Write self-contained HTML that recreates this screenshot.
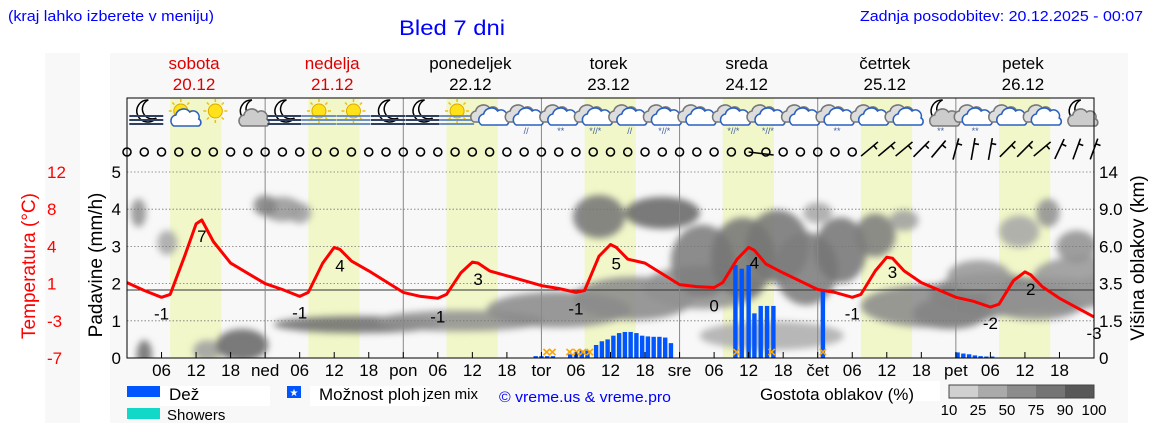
<!DOCTYPE html>
<html><head><meta charset="utf-8"><style>
html,body{margin:0;padding:0;background:#fff;}
svg{display:block;font-family:"Liberation Sans",sans-serif;}
</style></head><body>
<svg id="c" width="1152" height="443" viewBox="0 0 1152 443">
<defs>
<filter id="blur" x="-50%" y="-50%" width="200%" height="200%"><feGaussianBlur stdDeviation="3.5"/></filter>
<clipPath id="plotclip"><rect x="127" y="160" width="967" height="198"/></clipPath>
</defs>
<rect x="110" y="53" width="1018" height="370" fill="#f8f8f8"/>
<rect x="45" y="53" width="35" height="370" fill="#f8f8f8"/>
<text x="8" y="21" font-size="15" fill="#0000ff" textLength="206" lengthAdjust="spacingAndGlyphs">(kraj lahko izberete v meniju)</text>
<text x="399" y="35" font-size="21" fill="#0000ff" textLength="106" lengthAdjust="spacingAndGlyphs">Bled 7 dni</text>
<text x="1143" y="21" font-size="15" fill="#0000ff" text-anchor="end" textLength="283" lengthAdjust="spacingAndGlyphs">Zadnja posodobitev: 20.12.2025 - 00:07</text>
<g id="days"></g>
<g id="bands"></g>
<g id="clouds" clip-path="url(#plotclip)"><g id="cloudsin" filter="url(#blur)"></g></g>
<g id="grid"></g>
<g id="icons"></g>
<g id="wind"></g>
<g id="bars"></g>
<g id="temp"></g>
<g id="axes"></g>
<g id="legend"></g>
</svg>
<script>
const dayNames=["sobota","nedelja","ponedeljek","torek","sreda","četrtek","petek"];
const dayDates=["20.12","21.12","22.12","23.12","24.12","25.12","26.12"];
const dayShort=["","ned","pon","tor","sre","čet","pet"];
const tempHourOffsets=[0,3,6,7.5,10,12,13,15,18];
const tempValues=[
 0.8,0.0,-0.7,-0.4,3.5,6.8,7.2,5.0,2.8,
 0.7,0.1,-0.6,-0.2,2.8,4.4,4.2,3.0,2.0,
 -0.2,-0.6,-0.8,-0.4,1.8,2.9,2.8,2.0,1.5,
 0.5,0.2,-0.2,0.0,3.5,4.7,4.4,3.2,2.8,
 0.6,0.4,0.3,0.8,3.2,4.4,4.1,2.7,1.8,
 0.1,-0.2,-0.7,-0.4,2.0,3.4,3.3,2.0,0.8,
 -0.7,-1.1,-1.7,-1.4,1.0,1.9,1.6,0.4,-0.8,
 -2.7];
const tempLabels=[{h:6,t:"-1",dy:22},{h:13,t:"7",dy:22},{h:30,t:"-1",dy:22},{h:37,t:"4",dy:22},{h:54,t:"-1",dy:24},{h:61,t:"3",dy:22},{h:78,t:"-1",dy:22},{h:85,t:"5",dy:22},{h:102,t:"0",dy:24},{h:109,t:"4",dy:18},{h:126,t:"-1",dy:22},{h:133,t:"3",dy:20},{h:150,t:"-2",dy:22},{h:157,t:"2",dy:20},{h:168,t:"-3",dy:22}];
const precipHours=[71,72,73,74,77,78,79,80,81.5,82.5,83.5,84.5,85.5,86.5,87.5,88.5,89.5,90.5,91.5,92.5,93.5,94.5,105.7,106.8,108,109,110.1,111.2,112.3,120.9,144.3,145.3,146.3,147.3,148.3,149.3,150.3];
const precipValues=[0.05,0.05,0.05,0.05,0.1,0.15,0.2,0.2,0.35,0.45,0.5,0.6,0.67,0.7,0.7,0.67,0.6,0.58,0.57,0.57,0.55,0.4,2.5,2.4,2.5,1.2,1.4,1.4,1.4,1.8,0.15,0.12,0.1,0.07,0.05,0.04,0.04];
const mixMarkHours=[72.9,73.9,76.9,78.1,79.2,80.4,105.9,112,120.9];
const cloudHours=[2,7,27,24,30,3,14,20,40,58,75,88,100,82,93,100,107,113,118,124,130,140,150,160,166,148,143,158,170,120,135,155,165,112,160];
const cloudLevels=[3.9,3.1,4.0,4.1,3.9,0.1,0.2,0.35,0.9,1.0,1.3,1.6,1.9,3.8,3.9,2.6,2.7,3.0,2.4,2.9,3.3,1.4,1.7,1.7,2.2,2.2,1.2,1.5,1.8,3.9,3.7,3.4,3.0,0.6,3.9];
const cloudSpreadH=[0.8,1.2,3,1.5,1.5,0.8,2,4,14,14,12,10,10,4,6,5,5,5,5,4,3,12,10,10,8,5,6,8,6,2,2,3,3,12,1.5];
const cloudSpreadV=[0.3,0.25,0.25,0.2,0.2,0.3,0.2,0.35,0.15,0.2,0.4,0.5,0.5,0.5,0.35,0.9,1.0,0.9,0.9,0.8,0.5,0.5,0.5,0.4,0.45,0.35,0.35,0.4,0.35,0.2,0.2,0.35,0.35,0.3,0.3];
const cloudDensity=[0.6,0.45,0.55,0.7,0.5,0.85,0.5,0.9,0.85,0.6,0.65,0.65,0.6,0.8,0.9,0.75,0.8,0.8,0.75,0.8,0.75,0.65,0.7,0.65,0.55,0.55,0.7,0.6,0.55,0.45,0.5,0.45,0.6,0.4,0.6];
const iconTypes=["moonfog","suncloud","sun","mooncloud","moonfog","sunfog","sunfog","moonfog","moonfog","sunfog","cloud","cloudrain","cloudsnow","cloudsleet","cloudrain","cloudsleet","cloud","cloudsleet","cloudsleet","cloud","cloudsnow","cloud","cloud","moonsnow","cloudsnow","cloud","cloud","mooncloud"];
const windStartBarb=43;
const windDirections=[50,50,50,45,40,15,10,10,45,45,50,25,20,20];
const yLeftTicks=[0,1,2,3,4,5];
const tempTickLabels=["12","8","4","1","-3","-7"];
const kmTickLabels=["14","9.0","6.0","3.5","1.5","0"];
const legendCbLabels=["10","25","50","75","90","100"];
const legendCbColors=["#d0d0d0","#aaaaaa","#8c8c8c","#747474","#585858"];

const NS="http://www.w3.org/2000/svg";
const X0=127,X1=1094,Y0=358,YT=98;
const PX_H=(X1-X0)/168;
const xs=h=>X0+h*PX_H;
const yp=v=>Y0-v*37.2;
const yt=t=>173+(12-t)*9.79;
function mk(tag,attrs,parent,txt){const e=document.createElementNS(NS,tag);for(const k in attrs)e.setAttribute(k,attrs[k]);if(txt!==undefined)e.textContent=txt;parent.appendChild(e);return e;}
const G=id=>document.getElementById(id);

dayNames.forEach((n,i)=>{
  const cx=xs(i*24+12)-2;const col=i<2?"#dd0000":"#000";
  const t1=mk("text",{x:cx,y:69,"font-size":17,"text-anchor":"middle",fill:col},G("days"),n);
  
  
  const t2=mk("text",{x:cx,y:90,"font-size":17,"text-anchor":"middle",fill:col},G("days"),dayDates[i]);
  
  
});
for(let d=0;d<7;d++){
  const r=mk("rect",{x:xs(d*24+7.5),y:YT,width:xs(d*24+16.4)-xs(d*24+7.5),height:Y0-YT,fill:"#f1f7c8"},G("bands"));
  
  
}
cloudHours.forEach((h,i)=>{
  const d=cloudDensity[i];const g=Math.round(230-d*140);
  const e=mk("ellipse",{cx:xs(h),cy:yp(cloudLevels[i]),rx:cloudSpreadH[i]*PX_H+3,ry:cloudSpreadV[i]*37.2+3,fill:`rgb(${g},${g},${g})`,opacity:0.88},G("cloudsin"));
  
  
});
yLeftTicks.forEach(v=>{if(v>0){mk("line",{x1:X0,x2:X1,y1:yp(v),y2:yp(v),stroke:"#777","stroke-dasharray":"1.5,2","stroke-width":0.8},G("grid"));}});
mk("line",{x1:X0,x2:X1,y1:290,y2:290,stroke:"#333","stroke-width":1},G("grid"));
for(let d=1;d<7;d++)mk("line",{x1:xs(d*24),x2:xs(d*24),y1:YT,y2:Y0,stroke:"#888","stroke-width":1},G("grid"));
mk("rect",{x:X0,y:YT,width:X1-X0,height:Y0-YT,fill:"none",stroke:"#000","stroke-width":1},G("axes"));
for(let h=6;h<168;h+=6){
  const x=xs(h);mk("line",{x1:x,x2:x,y1:Y0,y2:Y0-6,stroke:"#000"},G("axes"));
  const lab=h%24===0?dayShort[h/24]:String(h%24).padStart(2,"0");
  const t=mk("text",{x:x,y:376,"font-size":17,"text-anchor":"middle"},G("axes"),lab);
  
  
}
yLeftTicks.forEach((v,i)=>{
  const t=mk("text",{x:121,y:yp(v)+6,"font-size":17,"text-anchor":"end"},G("axes"),String(v));
  
  
  const t2=mk("text",{x:47,y:yp(5-i)+6,"font-size":17,fill:"#ff0000"},G("axes"),tempTickLabels[i]);
  
  
  const t3=mk("text",{x:1099,y:yp(5-i)+6,"font-size":17},G("axes"),kmTickLabels[i]);
  
  
});
let ta=mk("text",{x:0,y:0,"font-size":19,fill:"#ff0000","text-anchor":"middle",transform:"translate(35,266) rotate(-90)"},G("axes"),"Temperatura (°C)");

ta=mk("text",{x:0,y:0,"font-size":19,"text-anchor":"middle",transform:"translate(102,265) rotate(-90)"},G("axes"),"Padavine (mm/h)");

ta=mk("text",{x:0,y:0,"font-size":19,"text-anchor":"middle",transform:"translate(1144,258) rotate(-90)"},G("axes"),"Višina oblakov (km)");

precipHours.forEach((h,i)=>{
  const y=yp(precipValues[i]);
  const r=mk("rect",{x:xs(h)-2.2,y:y,width:4.4,height:Y0-y,fill:"#0055ff"},G("bars"));
  
  
});
mixMarkHours.forEach(h=>{
  const t=mk("text",{x:xs(h),y:Y0-1,"font-size":15,"text-anchor":"middle",fill:"#ffa500","font-weight":"bold"},G("bars"),"×");
  
  
});
const tempHours=[];for(let d=0;d<7;d++)tempHourOffsets.forEach(o=>tempHours.push(d*24+o));tempHours.push(168);
let dstr="";tempHours.forEach((h,i)=>{dstr+=(i?"L":"M")+xs(h).toFixed(1)+","+yt(tempValues[i]).toFixed(1);});
const tp=mk("path",{d:dstr,fill:"none",stroke:"#ff0000","stroke-width":3,"stroke-linejoin":"round"},G("temp"));


tempLabels.forEach(l=>{
  let idx=0,best=1e9;tempHours.forEach((h,i)=>{if(Math.abs(h-l.h)<best){best=Math.abs(h-l.h);idx=i;}});
  const t=mk("text",{x:xs(l.h),y:yt(tempValues[idx])+l.dy,"font-size":17,"text-anchor":"middle"},G("temp"),l.t);
  
  
});
function cloudShape(g,cx,cy,fill,stroke){
  mk("path",{d:`M${cx-13},${cy+8} a6,6 0 0 1 2,-11 a8,8 0 0 1 14,-3 a6,6 0 0 1 9,7 a4,4 0 0 1 0,7 z`,fill:fill,stroke:stroke,"stroke-width":1.6},g);
}
iconTypes.forEach((tp2,i)=>{
  const cx=xs(i*6+3)+2,cy=114;
  const g=mk("g",{},G("icons"));
  
  
  if(tp2.startsWith("sun")){mk("circle",{cx:cx,cy:cy-3,r:7,fill:"#ffe21a",stroke:"#e0a800","stroke-width":1},g);
    for(let a=0;a<8;a++){const an=a*Math.PI/4;mk("line",{x1:cx+Math.cos(an)*9,y1:cy-3+Math.sin(an)*9,x2:cx+Math.cos(an)*12,y2:cy-3+Math.sin(an)*12,stroke:"#f0c000","stroke-width":1.5},g);}}
  if(tp2.startsWith("moon")){mk("path",{d:`M${cx+2},${cy-14} a11,11 0 1 0 8,18 a9,9 0 1 1 -8,-18 z`,fill:"#fff",stroke:"#000","stroke-width":1.5},g);}
  if(tp2.endsWith("fog")){for(let k=0;k<3;k++)mk("rect",{x:cx-17,y:cy+1+k*4,width:34,height:2,fill:tp2==="sunfog"?"#7090c0":"#304060"},g);}
  if(tp2==="suncloud")cloudShape(g,cx+6,cy+4,"#fff","#2a60c0");
  if(tp2==="mooncloud"||tp2==="moonsnow")cloudShape(g,cx+5,cy+4,"#ccc","#777");
  if(tp2.startsWith("cloud")){cloudShape(g,cx-5,cy,"#ddd","#777");cloudShape(g,cx+3,cy+3,"#fff","#2a60c0");}
  if(tp2.endsWith("rain")||tp2.endsWith("sleet")||tp2.endsWith("snow")){
    const s=tp2.endsWith("rain")?"//":tp2.endsWith("snow")?"**":"*//*";
    mk("text",{x:cx,y:cy+20,"font-size":9,"text-anchor":"middle",fill:"#4060a0"},g,s);}
});
for(let k=0;k<57;k++){
  const x=X0+k*PX_H*3,y=152;
  if(k<windStartBarb){
    if(k===36){mk("line",{x1:x,y1:y,x2:x+25,y2:y+3,stroke:"#000","stroke-width":1.5},G("wind"));}
    const c=mk("circle",{cx:x,cy:y,r:4,fill:"none",stroke:"#000","stroke-width":1.6},G("wind"));
    
    
  } else {
    const a=windDirections[k-windStartBarb]*Math.PI/180;
    const dx=Math.sin(a)*11,dy=Math.cos(a)*11;
    const tx=x+dx,ty=y-3-dy;
    const p=mk("path",{d:`M${x-dx},${y-3+dy} L${tx},${ty} M${x+dx*0.5},${y-3-dy*0.5} l${dy*0.45},${dx*0.45}`,stroke:"#000","stroke-width":1.6,fill:"none"},G("wind"));
    
    
  }
}
const L=G("legend");
mk("rect",{x:127,y:386,width:33,height:11,fill:"#0055ff"},L);
mk("rect",{x:160,y:386,width:110,height:20,fill:"#fff"},L);
mk("text",{x:169,y:400,"font-size":17},L,"Dež");
mk("rect",{x:127,y:408,width:33,height:11,fill:"#12d8c8"},L);
mk("text",{x:167,y:420,"font-size":15},L,"Showers");
mk("rect",{x:287,y:386,width:14,height:12,fill:"#0055ff"},L);
mk("text",{x:294,y:396,"font-size":10,"text-anchor":"middle",fill:"#fff"},L,"★");
mk("rect",{x:310,y:386,width:120,height:20,fill:"#fff"},L);
mk("text",{x:319,y:400,"font-size":17},L,"Možnost ploh");
mk("text",{x:423,y:399,"font-size":15},L,"jzen mix");
mk("text",{x:499,y:402,"font-size":15,fill:"#0000ff",textLength:"172",lengthAdjust:"spacingAndGlyphs"},L,"© vreme.us & vreme.pro");
mk("rect",{x:760,y:381,width:180,height:20,fill:"#fff"},L);
mk("text",{x:760,y:400,"font-size":17},L,"Gostota oblakov (%)");
legendCbColors.forEach((c,i)=>{const r=mk("rect",{x:949+i*29,y:385,width:29,height:13,fill:c},L);});
mk("rect",{x:949,y:385,width:145,height:13,fill:"none",stroke:"#444"},L);
legendCbLabels.forEach((t,i)=>{mk("text",{x:949+i*29,y:415,"font-size":15,"text-anchor":"middle"},L,t);});
</script>
</body></html>
